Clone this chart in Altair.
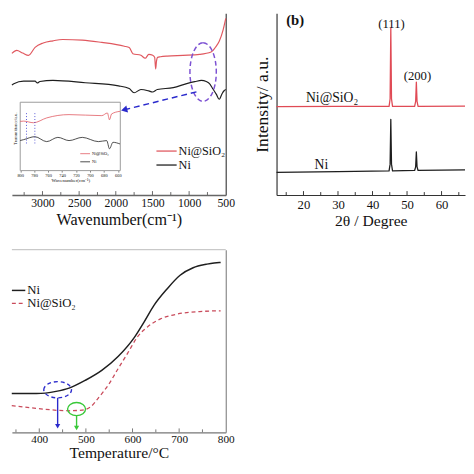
import altair as alt
import pandas as pd

FONT = "Liberation Serif"
INK = "#111111"
RED_FTIR = "#E0585F"
RED_XRD = "#E04A55"
RED_TG = "#C94B5B"
BLACK = "#1E1E1E"
BLUE = "#2A2ACC"
PURPLE = "#7D52D3"
GREEN = "#38C838"
FRAME = "#666666"

# ---------------- (a) FTIR ----------------
ftir_sio2_wn = [3417, 3351, 3271, 3190, 3101, 2990, 2857, 2724, 2456, 2190, 1883, 1817, 1767, 1657, 1599,
                1550, 1496, 1470, 1456, 1445, 1430, 1390, 1300, 1083, 856, 700, 643, 589, 536, 500]
ftir_sio2_t = [78.0, 79.6, 78.2, 76.9, 81.3, 83.7, 84.9, 85.6, 85.3, 84.0, 81.9, 81.2, 77.8, 76.9, 75.3,
               77.4, 76.9, 75.8, 69.4, 73.7, 75.8, 76.1, 76.5, 76.9, 77.4, 78.7, 81.2, 84.6, 90.9, 97.2]
ftir_ni_wn = [3417, 3391, 3257, 3101, 3070, 3035, 2857, 2417, 1963, 1817, 1750, 1657, 1550, 1500, 1433,
              1216, 1033, 922, 833, 766, 722, 678, 628, 589, 549, 523, 500]
ftir_ni_t = [60.5, 61.3, 62.7, 62.7, 61.7, 62.5, 63.1, 61.8, 60.1, 58.6, 56.3, 58.1, 57.3, 56.7, 58.1,
             59.1, 61.3, 62.4, 63.1, 62.5, 61.3, 58.6, 55.4, 52.7, 55.9, 57.4, 58.1]
ftir_tick_labels = [3000, 2500, 2000, 1500, 1000, 500]
ftir_major_ticks = [3000, 2500, 2000, 1500, 1000]
ftir_minor_ticks = [3250, 2750, 2250, 1750, 1250, 750]
ftir_ellipse_wn = [809]
ftir_ellipse_t = [67.7]
ftir_arrow_wn = [900]
ftir_arrow_t = [56.8]
ftir_arrow_wn2 = [1886]
ftir_arrow_t2 = [46.9]

# inset (800-660 cm-1)
inset_sio2_wn = [800, 795, 781, 762, 730, 683, 675, 672, 669, 657]
inset_sio2_t = [72.0, 72.4, 70.0, 77.1, 81.9, 80.4, 84.3, 74.3, 82.9, 86.7]
inset_ni_wn = [800, 795, 779, 762, 746, 730, 711, 688, 676, 672, 667, 657]
inset_ni_t = [44.0, 45.3, 49.6, 42.4, 48.6, 43.9, 48.6, 42.4, 43.9, 31.9, 41.4, 39.0]
inset_tick_labels = [800, 780, 760, 740, 720, 700, 680, 660]
inset_marker_wn = [791, 779]

# ---------------- (b) XRD ----------------
xrd_2theta = [12.2, 30.0, 44.8, 45.1, 45.3, 45.5, 45.8, 52.2, 52.5, 52.7, 52.9, 53.2, 66.8]
xrd_sio2_int = [48.6, 48.8, 48.8, 53.0, 92.0, 53.0, 48.8, 48.8, 51.5, 62.2, 51.5, 48.8, 48.9]
xrd_ni_int = [12.5, 12.9, 13.3, 17.0, 41.6, 17.0, 13.3, 13.5, 15.5, 23.7, 15.5, 13.5, 13.9]
xrd_tick_labels = [20, 30, 40, 50, 60]
xrd_major_ticks = [20, 30, 40, 50, 60]
xrd_minor_ticks = [15, 25, 35, 45, 55, 65]
xrd_peak_text = ["(111)", "(200)"]
xrd_peak_2theta = [45.5, 53.0]
xrd_peak_int = [94.1, 65.2]
xrd_series_text = ["Ni@SiO₂", "Ni"]
xrd_series_2theta = [28.3, 25.2]
xrd_series_int = [53.6, 16.5]
xrd_panel_text = ["(b)"]
xrd_panel_2theta = [17.6]
xrd_panel_int = [100.0]

# ---------------- (c) TG ----------------
tg_ni_temp = [341, 366, 394, 436, 464, 499, 534, 569, 604, 625, 646, 674, 702, 730, 758, 786, 789]
tg_ni_val = [21.2, 21.2, 21.2, 22.4, 24.2, 28.5, 33.9, 41.5, 52.0, 60.5, 69.5, 78.5, 86.0, 90.1, 92.0, 93.0, 93.0]
tg_sio2_temp = [341, 366, 408, 464, 492, 510, 527, 548, 569, 590, 611, 632, 660, 695, 744, 786, 789]
tg_sio2_val = [14.6, 13.9, 12.7, 11.8, 12.2, 13.9, 18.9, 25.9, 34.8, 43.5, 52.4, 57.7, 62.1, 64.7, 66.1, 66.5, 66.5]
tg_tick_labels = [400, 500, 600, 700, 800]
tg_major_ticks = [400, 500, 600, 700]
tg_minor_ticks = [350, 450, 550, 650, 750]
tg_blue_mark_temp = [439.4]
tg_blue_mark_val = [23.3]
tg_blue_arrow_val = [18.9]
tg_blue_arrow_val2 = [4.0]
tg_blue_head_val = [3.3]
tg_green_mark_temp = [480.0]
tg_green_mark_val = [12.7]
tg_green_arrow_val = [9.2]
tg_green_arrow_val2 = [3.0]
tg_green_head_val = [2.4]

W1, H1 = 219, 186
W2 = 193
H3 = 187

ELLIPSE_TALL = "M 0 -1 A 0.45 1 0 1 1 0 1 A 0.45 1 0 1 1 0 -1 Z"
ELLIPSE_BLUE = "M -1 0 A 1 0.585 0 1 1 1 0 A 1 0.585 0 1 1 -1 0 Z"
ELLIPSE_GREEN = "M -1 0 A 1 0.73 0 1 1 1 0 A 1 0.73 0 1 1 -1 0 Z"


def legend_item(label, color, x0, x1, y, size, dash=None, width=1.3):
    src = alt.Chart(pd.DataFrame({"label": [label]}))
    kw = dict(color=color, strokeWidth=width)
    if dash:
        kw["strokeDash"] = dash
    rule = src.mark_rule(**kw).encode(x=alt.value(x0), x2=alt.value(x1), y=alt.value(y))
    text = src.mark_text(align="left", baseline="middle", font=FONT, fontSize=size, color=INK).encode(
        x=alt.value(x1 + 2), y=alt.value(y), text="label:N")
    return [rule, text]


def tick_layer(values, xfield, xscale, xaxis, length, height, color):
    df = pd.DataFrame({xfield: values})
    return alt.Chart(df).mark_rule(color=color, strokeWidth=1).encode(
        x=alt.X(f"{xfield}:Q", scale=xscale, axis=xaxis),
        y=alt.value(height),
        y2=alt.value(height - length),
    )


# ======== FTIR panel ========
xs_f = alt.Scale(domain=[3417, 500], nice=False, zero=False)
ys_f = alt.Scale(domain=[0, 100], nice=False, zero=False)
ax_f = alt.Axis(values=ftir_tick_labels, title="Wavenumber(cm⁻¹)", ticks=False, grid=False,
                domainColor=FRAME, domainWidth=1.5, labelFont=FONT, labelFontSize=12, labelColor=INK,
                labelPadding=3, labelFlush=False, labelOverlap=False, titleFont=FONT, titleFontSize=16.5,
                titleFontWeight="normal", titleColor=INK, titlePadding=3, format="d")
ay_f = alt.Axis(orient="right", labels=False, ticks=False, grid=False, title=None,
                domainColor=FRAME, domainWidth=1.5)

df_f_sio2 = pd.DataFrame({"wn": ftir_sio2_wn, "t": ftir_sio2_t})
df_f_ni = pd.DataFrame({"wn": ftir_ni_wn, "t": ftir_ni_t})


def fx():
    return alt.X("wn:Q", scale=xs_f, axis=ax_f)


def fy():
    return alt.Y("t:Q", scale=ys_f, axis=ay_f)


f_sio2 = alt.Chart(df_f_sio2).mark_line(color=RED_FTIR, strokeWidth=1.2, interpolate="monotone").encode(x=fx(), y=fy())
f_ni = alt.Chart(df_f_ni).mark_line(color=BLACK, strokeWidth=1.2, interpolate="monotone").encode(x=fx(), y=fy())
f_tmaj = tick_layer(ftir_major_ticks, "wn", xs_f, ax_f, 4, H1, FRAME)
f_tmin = tick_layer(ftir_minor_ticks, "wn", xs_f, ax_f, 3, H1, FRAME)
f_ell = alt.Chart(pd.DataFrame({"wn": ftir_ellipse_wn, "t": ftir_ellipse_t})).mark_point(
    shape=ELLIPSE_TALL, size=3600, filled=False, stroke=PURPLE, strokeWidth=1.5, strokeDash=[5, 3], opacity=1
).encode(x=fx(), y=fy())
f_arrow = alt.Chart(pd.DataFrame({"wn": ftir_arrow_wn, "t": ftir_arrow_t, "wn2": ftir_arrow_wn2, "t2": ftir_arrow_t2})).mark_rule(
    color=BLUE, strokeWidth=1.5, strokeDash=[6, 4]
).encode(x=fx(), y=fy(), x2="wn2:Q", y2="t2:Q")
f_head = alt.Chart(pd.DataFrame({"wn": ftir_arrow_wn2, "t": ftir_arrow_t2})).mark_point(
    shape="triangle-left", size=55, filled=True, color=BLUE, opacity=1, angle=346
).encode(x=fx(), y=fy())

f_leg = legend_item("Ni@SiO₂", RED_FTIR, 148, 168.7, 141, 12.5) + legend_item("Ni", BLACK, 148, 168.7, 155.3, 12.5)

main_f = alt.layer(f_tmaj, f_tmin, f_sio2, f_ni, f_ell, f_arrow, f_head, *f_leg)

# inset
xs_i = alt.Scale(domain=[800, 656.5], range=[8.5, 111], nice=False, zero=False)
ys_i = alt.Scale(domain=[0, 100], range=[161, 91], nice=False, zero=False)
ax_i = alt.Axis(orient="bottom", offset=-25, values=inset_tick_labels, tickSize=1.5, tickColor="#777",
                domain=False, grid=False, labelFont=FONT, labelFontSize=4.5, labelColor=INK, labelPadding=1,
                labelFlush=False, labelOverlap=False, title="Wavenumber(cm⁻¹)", titleFont=FONT,
                titleFontSize=5, titleFontWeight="normal", titleColor=INK, titlePadding=0.5, format="d")


def ix():
    return alt.X("wn:Q", scale=xs_i, axis=ax_i)


def iy():
    return alt.Y("t:Q", scale=ys_i, axis=None)


i_frame = alt.Chart(pd.DataFrame({"label": ["frame"]})).mark_rect(fill="white", stroke="#999999", strokeWidth=1).encode(
    x=alt.XDatum(800, scale=xs_i, axis=ax_i), x2=alt.X2Datum(656.5),
    y=alt.YDatum(0, scale=ys_i, axis=None), y2=alt.Y2Datum(100))
i_sio2 = alt.Chart(pd.DataFrame({"wn": inset_sio2_wn, "t": inset_sio2_t})).mark_line(
    color=RED_FTIR, strokeWidth=0.8, interpolate="monotone").encode(x=ix(), y=iy())
i_ni = alt.Chart(pd.DataFrame({"wn": inset_ni_wn, "t": inset_ni_t})).mark_line(
    color=BLACK, strokeWidth=0.8, interpolate="monotone").encode(x=ix(), y=iy())
i_marks = alt.Chart(pd.DataFrame({"wn": inset_marker_wn})).mark_rule(
    color=BLUE, strokeWidth=0.8, strokeDash=[1, 2]).encode(
    x=ix(), y=alt.YDatum(84, scale=ys_i, axis=None), y2=alt.Y2Datum(37))
i_title = alt.Chart(pd.DataFrame({"label": ["Transmittance/a.u."]})).mark_text(
    angle=270, font=FONT, fontSize=4.5, color=INK, baseline="middle", align="center").encode(
    x=alt.value(4), y=alt.value(118), text="label:N")
i_leg = legend_item("Ni@SiO₂", RED_FTIR, 70, 80, 143.7, 4.5, width=0.8) + legend_item("Ni", BLACK, 70, 80, 152, 4.5, width=0.8)

inset = alt.layer(i_frame, i_sio2, i_ni, i_marks, i_title, *i_leg)

ftir = alt.layer(main_f, inset).resolve_scale(x="independent", y="independent").resolve_axis(
    x="independent", y="independent").properties(width=W1, height=H1)

# ======== XRD panel ========
xs_x = alt.Scale(domain=[12.2, 66.8], nice=False, zero=False)
ys_x = alt.Scale(domain=[0, 100], nice=False, zero=False)
ax_x = alt.Axis(values=xrd_tick_labels, ticks=False, grid=False, domainColor="#333333", domainWidth=1.2,
                labelFont=FONT, labelFontSize=13, labelColor=INK, labelPadding=4, labelFlush=False,
                labelOverlap=False, title="2θ / Degree", titleFont=FONT, titleFontSize=16,
                titleFontWeight="normal", titleColor=INK, titlePadding=1)
ay_x = alt.Axis(labels=False, ticks=False, grid=False, domainColor="#333333", domainWidth=1.2,
                title="Intensity/ a.u.", titleFont=FONT, titleFontSize=18, titleFontWeight="normal",
                titleColor=INK, titlePadding=5)


def xx():
    return alt.X("tt:Q", scale=xs_x, axis=ax_x)


def xy():
    return alt.Y("i:Q", scale=ys_x, axis=ay_x)


df_x_sio2 = pd.DataFrame({"tt": xrd_2theta, "i": xrd_sio2_int})
df_x_ni = pd.DataFrame({"tt": xrd_2theta, "i": xrd_ni_int})
x_sio2 = alt.Chart(df_x_sio2).mark_line(color=RED_XRD, strokeWidth=1.3, strokeJoin="round").encode(x=xx(), y=xy())
x_ni = alt.Chart(df_x_ni).mark_line(color=BLACK, strokeWidth=1.3, strokeJoin="round").encode(x=xx(), y=xy())
x_tmaj = tick_layer(xrd_major_ticks, "tt", xs_x, ax_x, 4, H1, "#333333")
x_tmin = tick_layer(xrd_minor_ticks, "tt", xs_x, ax_x, 3, H1, "#333333")
x_peak_lab = alt.Chart(pd.DataFrame({"tt": xrd_peak_2theta, "i": xrd_peak_int, "label": xrd_peak_text})).mark_text(
    font=FONT, fontSize=13, color=INK, baseline="middle", align="center").encode(x=xx(), y=xy(), text="label:N")
x_ser_lab = alt.Chart(pd.DataFrame({"tt": xrd_series_2theta, "i": xrd_series_int, "label": xrd_series_text})).mark_text(
    font=FONT, fontSize=14, color=INK, baseline="middle", align="center").encode(x=xx(), y=xy(), text="label:N")
x_b = alt.Chart(pd.DataFrame({"tt": xrd_panel_2theta, "i": xrd_panel_int, "label": xrd_panel_text})).mark_text(
    font=FONT, fontSize=15, fontWeight="bold", color=INK, baseline="top", align="center", dy=0).encode(
    x=xx(), y=xy(), text="label:N")

xrd = alt.layer(x_tmaj, x_tmin, x_sio2, x_ni, x_peak_lab, x_ser_lab, x_b).properties(width=W2, height=H1)

# ======== TG panel ========
xs_t = alt.Scale(domain=[341.3, 800], nice=False, zero=False)
ys_t = alt.Scale(domain=[0, 100], nice=False, zero=False)
ax_t = alt.Axis(values=tg_tick_labels, ticks=False, grid=False, domainColor="#777777", domainWidth=1.2,
                labelFont=FONT, labelFontSize=11.5, labelColor=INK, labelPadding=1, labelFlush=False,
                labelOverlap=False, title="Temperature/°C", titleFont=FONT, titleFontSize=16,
                titleFontWeight="normal", titleColor=INK, titlePadding=0)
ay_t = alt.Axis(orient="right", labels=False, ticks=False, grid=False, title=None,
                domainColor="#888888", domainWidth=1.2)


def tx():
    return alt.X("temp:Q", scale=xs_t, axis=ax_t)


def ty():
    return alt.Y("v:Q", scale=ys_t, axis=ay_t)


t_ni = alt.Chart(pd.DataFrame({"temp": tg_ni_temp, "v": tg_ni_val})).mark_line(
    color=BLACK, strokeWidth=1.5, interpolate="monotone").encode(x=tx(), y=ty())
t_sio2 = alt.Chart(pd.DataFrame({"temp": tg_sio2_temp, "v": tg_sio2_val})).mark_line(
    color=RED_TG, strokeWidth=1.3, strokeDash=[4, 3], interpolate="monotone").encode(x=tx(), y=ty())
t_tmaj = tick_layer(tg_major_ticks, "temp", xs_t, ax_t, 4, H3, "#777777")
t_tmin = tick_layer(tg_minor_ticks, "temp", xs_t, ax_t, 3, H3, "#777777")
t_top = alt.Chart(pd.DataFrame({"label": ["top"]})).mark_rule(color="#BBBBBB", strokeWidth=1).encode(y=alt.value(0))
t_blue_ell = alt.Chart(pd.DataFrame({"temp": tg_blue_mark_temp, "v": tg_blue_mark_val})).mark_point(
    shape=ELLIPSE_BLUE, size=806, filled=False, stroke=BLUE, strokeWidth=1.4, strokeDash=[4, 3], opacity=1
).encode(x=tx(), y=ty())
t_blue_arrow = alt.Chart(pd.DataFrame({"temp": tg_blue_mark_temp, "v": tg_blue_arrow_val, "v2": tg_blue_arrow_val2})).mark_rule(
    color=BLUE, strokeWidth=1.4).encode(x=tx(), y=ty(), y2="v2:Q")
t_blue_head = alt.Chart(pd.DataFrame({"temp": tg_blue_mark_temp, "v": tg_blue_head_val})).mark_point(
    shape="triangle-down", size=28, filled=True, color=BLUE, opacity=1).encode(x=tx(), y=ty())
t_green_ell = alt.Chart(pd.DataFrame({"temp": tg_green_mark_temp, "v": tg_green_mark_val})).mark_point(
    shape=ELLIPSE_GREEN, size=339, filled=False, stroke=GREEN, strokeWidth=1.4, opacity=1
).encode(x=tx(), y=ty())
t_green_arrow = alt.Chart(pd.DataFrame({"temp": tg_green_mark_temp, "v": tg_green_arrow_val, "v2": tg_green_arrow_val2})).mark_rule(
    color=GREEN, strokeWidth=1.4).encode(x=tx(), y=ty(), y2="v2:Q")
t_green_head = alt.Chart(pd.DataFrame({"temp": tg_green_mark_temp, "v": tg_green_head_val})).mark_point(
    shape="triangle-down", size=28, filled=True, color=GREEN, opacity=1).encode(x=tx(), y=ty())
t_leg = legend_item("Ni", BLACK, 0, 13.7, 41.7, 13, width=1.5) + legend_item("Ni@SiO₂", RED_TG, 0, 13.7, 55, 13, dash=[4, 3])

tg = alt.layer(t_top, t_tmaj, t_tmin, t_ni, t_sio2, t_blue_ell, t_blue_arrow, t_blue_head,
               t_green_ell, t_green_arrow, t_green_head, *t_leg).properties(width=W1, height=H3)

chart = alt.concat(ftir, xrd, tg, columns=2, spacing=alt.RowColnumber(row=56, column=52),
                   bounds="flush").properties(padding=0).configure_view(strokeWidth=0)

chart.save("out.html", embed_options={"renderer": "svg", "actions": False})
